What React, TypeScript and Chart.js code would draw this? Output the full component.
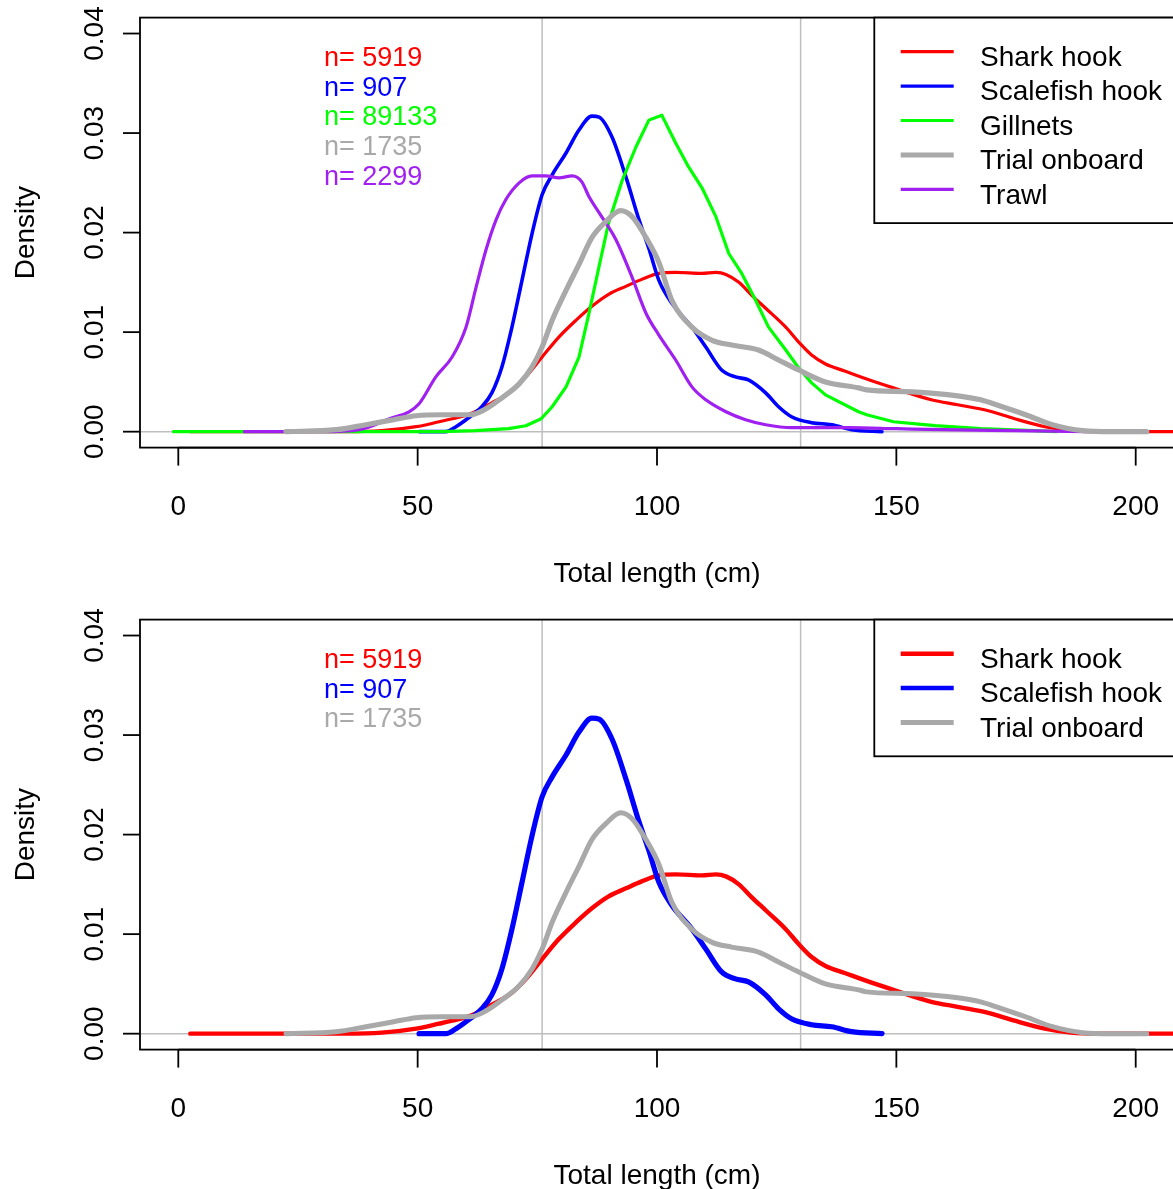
import React, { useEffect, useRef } from "react";
import { Chart, registerables } from "chart.js";
Chart.register(...registerables);

// ---------- data ----------
const sharkLen = [2.5, 20, 35, 42.5, 49.7, 54.5, 57.2, 61, 65.5, 69.1, 72.6, 76, 79.5, 83.1, 86.4, 89.9, 93.5, 96.8, 100.4, 103.9, 109.4, 112.3, 114.4, 117.1, 119.8, 122.7, 126.9, 129.6, 132.3, 135.2, 139.2, 143.8, 149.4, 157.3, 162.8, 169.2, 174.7, 181, 186.5, 192, 215];
const sharkDens = [0, 0, 0, 0.0001, 0.0005, 0.001, 0.0013, 0.0018, 0.0029, 0.0039, 0.0055, 0.0075, 0.0095, 0.0112, 0.0126, 0.0138, 0.0146, 0.0153, 0.0159, 0.016, 0.0159, 0.016, 0.0158, 0.015, 0.0137, 0.0124, 0.0105, 0.009, 0.0077, 0.0068, 0.0061, 0.0053, 0.0044, 0.0032, 0.0027, 0.0021, 0.0013, 0.0005, 0.0001, 0, 0];

const scaleLen = [50.3, 55.9, 58, 60.1, 63.4, 65.5, 67.6, 69.7, 71.8, 73.9, 76, 78.1, 81, 83.7, 86.4, 87.9, 90.6, 93.5, 96.3, 98.3, 100.4, 103.1, 107.3, 110.2, 113.5, 116.4, 119.1, 122.7, 125.4, 128.1, 132.3, 136.5, 140.7, 147];
const scaleDens = [0, 0, 0.0005, 0.0012, 0.0025, 0.0039, 0.0065, 0.0105, 0.0152, 0.0199, 0.0238, 0.0258, 0.028, 0.0303, 0.0317, 0.0316, 0.0296, 0.0256, 0.0212, 0.0184, 0.0152, 0.0129, 0.0105, 0.0085, 0.0062, 0.0055, 0.0052, 0.0039, 0.0025, 0.0015, 0.0009, 0.0007, 0.0002, 0];

const gillLen = [-1, 20, 40, 55, 62, 69, 72.6, 75.8, 78.1, 81, 83.7, 85.8, 87.9, 89.9, 92.7, 95.6, 98.3, 101, 103.9, 106.6, 109.4, 112.3, 115, 117.7, 120.6, 123.3, 126.9, 129.6, 132.3, 135.2, 142.1, 143.8, 149.4, 158.1, 167.6, 178.7, 183.4];
const gillDens = [0, 0, 0, 0, 0.0001, 0.0003, 0.0006, 0.0013, 0.0025, 0.0045, 0.0075, 0.0119, 0.0166, 0.021, 0.0252, 0.0286, 0.0313, 0.0318, 0.029, 0.0266, 0.0245, 0.0216, 0.0179, 0.0159, 0.0132, 0.0105, 0.0082, 0.0064, 0.0049, 0.0037, 0.002, 0.0017, 0.001, 0.0006, 0.0003, 0.0001, 0];

const trialLen = [22.5, 33, 39.2, 45, 49.7, 55, 61, 64.3, 67.6, 71.2, 73.9, 76, 78.1, 81, 83.7, 86.4, 89.3, 92.4, 94.8, 97.7, 100.4, 103.1, 107.3, 111.4, 115.6, 121.2, 125.4, 129.6, 135.2, 142.1, 143.8, 153.3, 162.8, 167.6, 171.5, 177, 182.6, 188.9, 195, 202.3];
const trialDens = [0, 0.0002, 0.0007, 0.0012, 0.0016, 0.0017, 0.0017, 0.0023, 0.0034, 0.0048, 0.0065, 0.0085, 0.0112, 0.0142, 0.0168, 0.0195, 0.0211, 0.0222, 0.0216, 0.0195, 0.017, 0.0132, 0.0105, 0.0092, 0.0087, 0.0082, 0.0072, 0.0062, 0.005, 0.0044, 0.0042, 0.004, 0.0036, 0.0032, 0.0026, 0.0017, 0.0007, 0.0001, 0, 0];

const trawlLen = [13.8, 30, 37.8, 44.7, 48.2, 50.3, 53.8, 57.2, 60.1, 62.2, 64.3, 66.4, 68.4, 71.2, 73.9, 76.8, 79.5, 82.3, 84.3, 85.8, 87.9, 91.4, 94.8, 97.7, 100.4, 103.9, 107.3, 110.2, 114.4, 118.5, 122.7, 128.1, 140, 150, 160, 175, 189.7];
const trawlDens = [0, 0, 0.0002, 0.0014, 0.002, 0.0028, 0.0055, 0.0075, 0.0105, 0.0145, 0.0183, 0.0213, 0.0233, 0.025, 0.0257, 0.0257, 0.0255, 0.0257, 0.0251, 0.0236, 0.022, 0.0193, 0.0155, 0.0119, 0.0097, 0.0072, 0.0045, 0.0032, 0.002, 0.0012, 0.0007, 0.0004, 0.0004, 0.0003, 0.0002, 0.0001, 0];

const seriesNames = ["Shark hook", "Scalefish hook", "Gillnets", "Trial onboard", "Trawl"];
const sampleSizes = [5919, 907, 89133, 1735, 2299];
const seriesColors = ["#FF0000", "#0000FF", "#00FF00", "#A9A9A9", "#A020F0"];
const seriesLen = [sharkLen, scaleLen, gillLen, trialLen, trawlLen];
const seriesDens = [sharkDens, scaleDens, gillDens, trialDens, trawlDens];

const xTicks = [0, 50, 100, 150, 200];
const yTicks = [0, 0.01, 0.02, 0.03, 0.04];
const yTickLabels = ["0.00", "0.01", "0.02", "0.03", "0.04"];
const refLines = [76, 130];
const xLimits = [0, 200];
const yLimits = [0, 0.04];
const xTitle = "Total length (cm)";
const yTitle = "Density";

// ---------- panel definitions ----------
const panels = [
  { series: [0, 1, 2, 3, 4], widths: [3.2, 3.6, 3.2, 5.2, 3.2], legendWidths: [3.2, 3.2, 3.2, 5, 3.2] },
  { series: [0, 1, 3], widths: [4.4, 5.2, 5], legendWidths: [4.5, 4.5, 5] },
];
const drawOrder: Record<number, number> = { 0: 4, 1: 3, 2: 2, 4: 1, 3: 0 };

const FONT = '"Liberation Sans", Arial, Helvetica, sans-serif';
const CANVAS_W = 1180;
const CANVAS_H = 602;

function expand(lim: number[]) {
  const d = (lim[1] - lim[0]) * 0.04;
  return [lim[0] - d, lim[1] + d];
}

function makePlugin(panel: typeof panels[number]) {
  return {
    id: "rstyle",
    beforeDatasetsDraw(chart: any) {
      const { ctx, chartArea: a, scales } = chart;
      const x = scales.x, y = scales.y;
      ctx.save();
      ctx.beginPath();
      ctx.rect(a.left, a.top, a.right - a.left, a.bottom - a.top);
      ctx.clip();
      ctx.strokeStyle = "#BEBEBE";
      ctx.lineWidth = 1.5;
      const y0 = y.getPixelForValue(0);
      ctx.beginPath();
      ctx.moveTo(a.left, y0);
      ctx.lineTo(a.right, y0);
      ctx.stroke();
      refLines.forEach((v) => {
        const px = x.getPixelForValue(v);
        ctx.beginPath();
        ctx.moveTo(px, a.top);
        ctx.lineTo(px, a.bottom);
        ctx.stroke();
      });
      ctx.restore();
    },
    afterDraw(chart: any) {
      const { ctx, chartArea: a, scales } = chart;
      const x = scales.x, y = scales.y;
      ctx.save();
      // box
      ctx.strokeStyle = "#000";
      ctx.lineWidth = 1.8;
      ctx.strokeRect(a.left, a.top, a.right - a.left, a.bottom - a.top);

      // x axis
      ctx.fillStyle = "#000";
      ctx.font = `28px ${FONT}`;
      ctx.textAlign = "center";
      ctx.textBaseline = "alphabetic";
      const xs0 = x.getPixelForValue(xTicks[0]);
      const xs1 = x.getPixelForValue(xTicks[xTicks.length - 1]);
      ctx.beginPath();
      ctx.moveTo(xs0, a.bottom);
      ctx.lineTo(xs1, a.bottom);
      ctx.stroke();
      xTicks.forEach((v) => {
        const px = x.getPixelForValue(v);
        ctx.beginPath();
        ctx.moveTo(px, a.bottom);
        ctx.lineTo(px, a.bottom + 18);
        ctx.stroke();
        ctx.fillText(String(v), px, a.bottom + 67);
      });
      ctx.fillText(xTitle, (a.left + a.right) / 2, a.bottom + 134.5);

      // y axis
      yTicks.forEach((v, i) => {
        const py = y.getPixelForValue(v);
        ctx.beginPath();
        ctx.moveTo(a.left, py);
        ctx.lineTo(a.left - 17, py);
        ctx.stroke();
        ctx.save();
        ctx.translate(a.left - 37.5, py);
        ctx.rotate(-Math.PI / 2);
        ctx.fillText(yTickLabels[i], 0, 0);
        ctx.restore();
      });
      ctx.save();
      ctx.translate(34, (a.top + a.bottom) / 2);
      ctx.rotate(-Math.PI / 2);
      ctx.fillText(yTitle, 0, 0);
      ctx.restore();

      // sample sizes
      ctx.font = `27px ${FONT}`;
      ctx.textAlign = "left";
      panel.series.forEach((s, i) => {
        ctx.fillStyle = seriesColors[s];
        ctx.fillText(`n= ${sampleSizes[s]}`, 324, a.top + 48.6 + i * 29.6);
      });

      // legend
      const n = panel.series.length;
      const lx = 874.3;
      const lb = a.top + n * 34.4 + 33.5;
      ctx.fillStyle = "#fff";
      ctx.fillRect(lx, a.top, a.right - lx, lb - a.top);
      ctx.strokeStyle = "#000";
      ctx.lineWidth = 1.8;
      ctx.strokeRect(lx, a.top, a.right - lx, lb - a.top);
      ctx.font = `28px ${FONT}`;
      ctx.lineCap = "butt";
      panel.series.forEach((s, i) => {
        const ly = a.top + 34.1 + i * 34.4;
        ctx.strokeStyle = seriesColors[s];
        ctx.lineWidth = panel.legendWidths[i];
        ctx.beginPath();
        ctx.moveTo(900.7, ly);
        ctx.lineTo(953.7, ly);
        ctx.stroke();
        ctx.fillStyle = "#000";
        ctx.fillText(seriesNames[s], 980, a.top + 48.3 + i * 34.4);
      });
      ctx.restore();
    },
  };
}

function Panel({ index }: { index: number }) {
  const ref = useRef<HTMLCanvasElement | null>(null);
  useEffect(() => {
    const panel = panels[index];
    const xr = expand(xLimits);
    const yr = expand(yLimits);
    const datasets = panel.series.map((s, i) => ({
      label: seriesNames[s],
      data: seriesLen[s].map((v, k) => ({ x: v, y: seriesDens[s][k] })),
      borderColor: seriesColors[s],
      borderWidth: panel.widths[i],
      pointRadius: 0,
      fill: false,
      borderCapStyle: "round" as const,
      borderJoinStyle: "round" as const,
      cubicInterpolationMode: s === 2 ? ("default" as const) : ("monotone" as const),
      tension: s === 2 ? 0 : 0.4,
      order: drawOrder[s],
    }));
    const chart = new Chart(ref.current as HTMLCanvasElement, {
      type: "line",
      data: { datasets },
      options: {
        responsive: false,
        animation: false,
        devicePixelRatio: 1,
        layout: { padding: { left: 140, top: 17.6, right: CANVAS_W - 1174, bottom: CANVAS_H - 447.6 } },
        scales: {
          x: { type: "linear", min: xr[0], max: xr[1], display: false },
          y: { type: "linear", min: yr[0], max: yr[1], display: false },
        },
        plugins: { legend: { display: false }, tooltip: { enabled: false } },
        events: [],
      },
      plugins: [makePlugin(panel)],
    } as any);
    return () => chart.destroy();
  }, [index]);
  return (
    <div style={{ position: "absolute", left: 0, top: index * 602, width: CANVAS_W, height: CANVAS_H }}>
      <canvas ref={ref} width={CANVAS_W} height={CANVAS_H} style={{ width: CANVAS_W, height: CANVAS_H, display: "block" }} />
    </div>
  );
}

export default function App() {
  return (
    <div style={{ position: "absolute", left: 0, top: 0, width: 1173, height: 1189, overflow: "hidden", background: "#fff" }}>
      <Panel index={0} />
      <Panel index={1} />
    </div>
  );
}
